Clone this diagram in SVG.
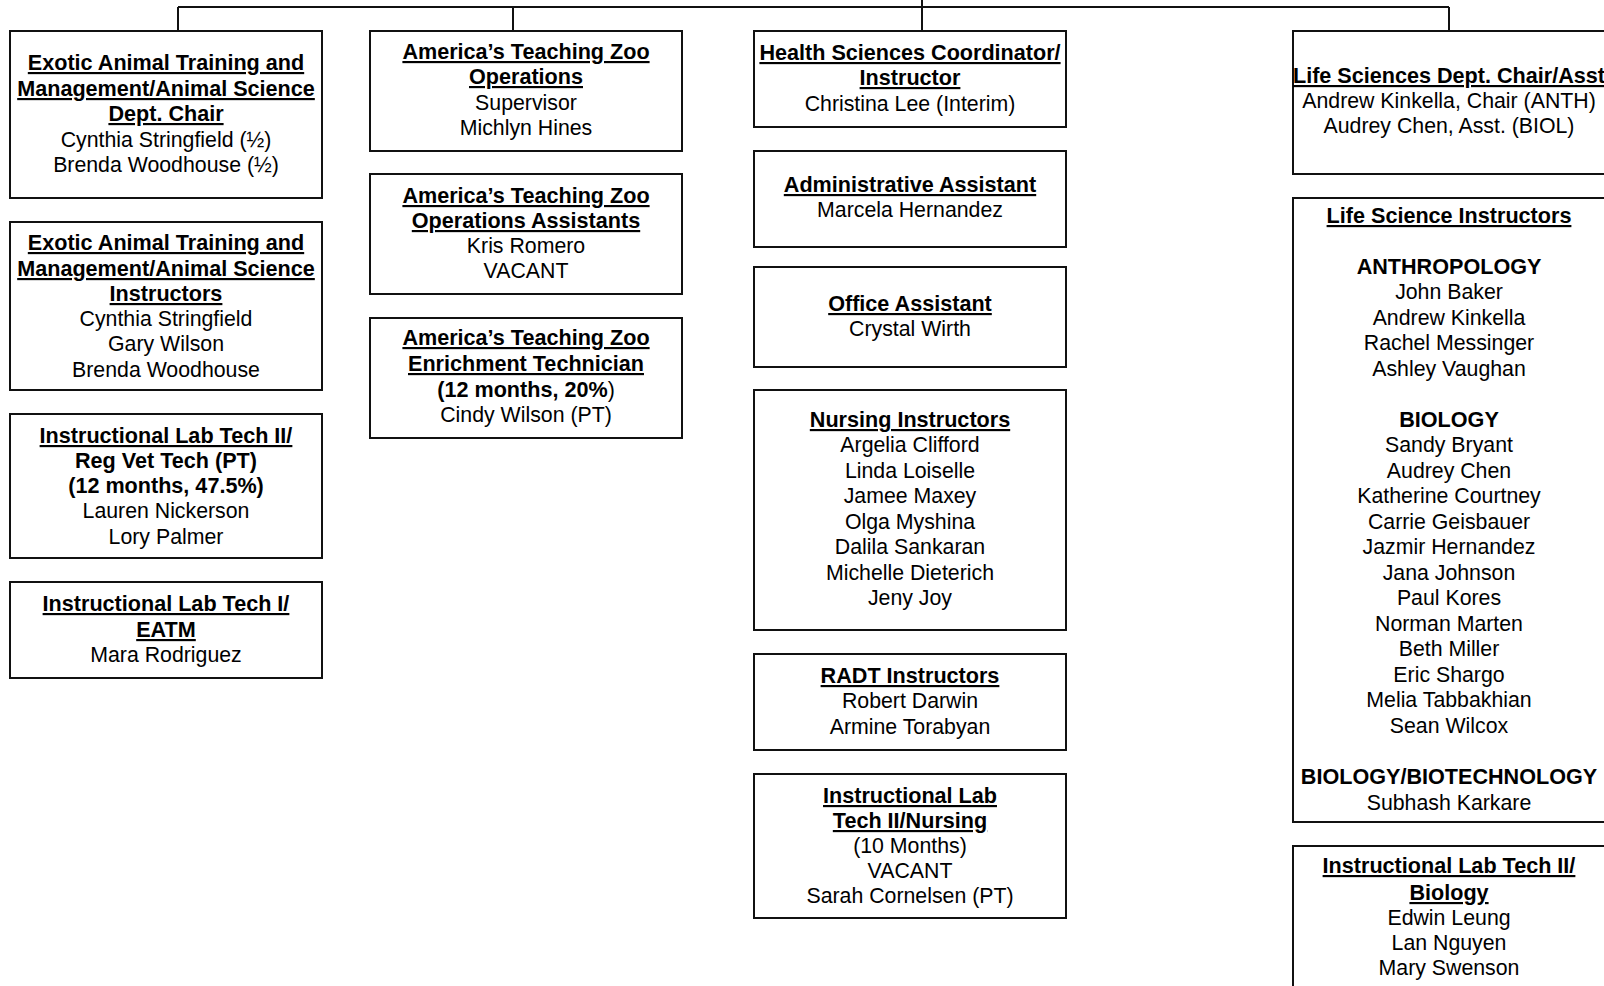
<svg xmlns="http://www.w3.org/2000/svg" width="1604" height="986" viewBox="0 0 1604 986">
<style>
  .box { fill: #fff; stroke: #111; stroke-width: 2; }
  .ln { fill: none; stroke: #111; stroke-width: 2; }
  text { font-family: "Liberation Sans", Arial, sans-serif; font-size: 21.3px; fill: #000; text-anchor: middle; }
  .h { font-weight: bold; font-size: 21.6px; text-decoration: underline; }
  .b { font-weight: bold; font-size: 21.6px; }
</style>
<rect width="1604" height="986" fill="#fff"/>
<g id="connectors">
  <path class="ln" d="M178 7 H1449 M178 7 V31 M513 7 V31 M922 0 V31 M1449 7 V31"/>
</g>
<g id="eatm-chair">
  <rect class="box" x="10" y="31" width="312" height="167"/>
  <text x="166" y="70" class="h">Exotic Animal Training and</text>
  <text x="166" y="96" class="h">Management/Animal Science</text>
  <text x="166" y="121" class="h">Dept. Chair</text>
  <text x="166" y="147">Cynthia Stringfield (½)</text>
  <text x="166" y="172">Brenda Woodhouse (½)</text>
</g>
<g id="eatm-instructors">
  <rect class="box" x="10" y="222" width="312" height="168"/>
  <text x="166" y="250" class="h">Exotic Animal Training and</text>
  <text x="166" y="276" class="h">Management/Animal Science</text>
  <text x="166" y="301" class="h">Instructors</text>
  <text x="166" y="326">Cynthia Stringfield</text>
  <text x="166" y="351">Gary Wilson</text>
  <text x="166" y="377">Brenda Woodhouse</text>
</g>
<g id="ilt2-vet">
  <rect class="box" x="10" y="414" width="312" height="144"/>
  <text x="166" y="443" class="h">Instructional Lab Tech II/</text>
  <text x="166" y="468" class="b">Reg Vet Tech (PT)</text>
  <text x="166" y="493" class="b">(12 months, 47.5%)</text>
  <text x="166" y="518">Lauren Nickerson</text>
  <text x="166" y="544">Lory Palmer</text>
</g>
<g id="ilt1-eatm">
  <rect class="box" x="10" y="582" width="312" height="96"/>
  <text x="166" y="611" class="h">Instructional Lab Tech I/</text>
  <text x="166" y="637" class="h">EATM</text>
  <text x="166" y="662">Mara Rodriguez</text>
</g>
<g id="zoo-ops">
  <rect class="box" x="370" y="31" width="312" height="120"/>
  <text x="526" y="59" class="h">America’s Teaching Zoo</text>
  <text x="526" y="84" class="h">Operations</text>
  <text x="526" y="110">Supervisor</text>
  <text x="526" y="135">Michlyn Hines</text>
</g>
<g id="zoo-assistants">
  <rect class="box" x="370" y="174" width="312" height="120"/>
  <text x="526" y="203" class="h">America’s Teaching Zoo</text>
  <text x="526" y="228" class="h">Operations Assistants</text>
  <text x="526" y="253">Kris Romero</text>
  <text x="526" y="278">VACANT</text>
</g>
<g id="zoo-enrichment">
  <rect class="box" x="370" y="318" width="312" height="120"/>
  <text x="526" y="345" class="h">America’s Teaching Zoo</text>
  <text x="526" y="371" class="h">Enrichment Technician</text>
  <text x="526" y="397"><tspan class="b">(12 months, 20%</tspan>)</text>
  <text x="526" y="422">Cindy Wilson (PT)</text>
</g>
<g id="health-coord">
  <rect class="box" x="754" y="31" width="312" height="96"/>
  <text x="910" y="60" class="h">Health Sciences Coordinator/</text>
  <text x="910" y="85" class="h">Instructor</text>
  <text x="910" y="111">Christina Lee (Interim)</text>
</g>
<g id="admin-assistant">
  <rect class="box" x="754" y="151" width="312" height="96"/>
  <text x="910" y="192" class="h">Administrative Assistant</text>
  <text x="910" y="217">Marcela Hernandez</text>
</g>
<g id="office-assistant">
  <rect class="box" x="754" y="267" width="312" height="100"/>
  <text x="910" y="311" class="h">Office Assistant</text>
  <text x="910" y="336">Crystal Wirth</text>
</g>
<g id="nursing">
  <rect class="box" x="754" y="390" width="312" height="240"/>
  <text x="910" y="427" class="h">Nursing Instructors</text>
  <text x="910" y="452">Argelia Clifford</text>
  <text x="910" y="478">Linda Loiselle</text>
  <text x="910" y="503">Jamee Maxey</text>
  <text x="910" y="529">Olga Myshina</text>
  <text x="910" y="554">Dalila Sankaran</text>
  <text x="910" y="580">Michelle Dieterich</text>
  <text x="910" y="605">Jeny Joy</text>
</g>
<g id="radt">
  <rect class="box" x="754" y="654" width="312" height="96"/>
  <text x="910" y="683" class="h">RADT Instructors</text>
  <text x="910" y="708">Robert Darwin</text>
  <text x="910" y="734">Armine Torabyan</text>
</g>
<g id="ilt2-nursing">
  <rect class="box" x="754" y="774" width="312" height="144"/>
  <text x="910" y="803" class="h">Instructional Lab</text>
  <text x="910" y="828" class="h">Tech II/Nursing</text>
  <text x="910" y="853">(10 Months)</text>
  <text x="910" y="878">VACANT</text>
  <text x="910" y="903">Sarah Cornelsen (PT)</text>
</g>
<g id="life-chair">
  <rect class="box" x="1293" y="31" width="314" height="143"/>
  <text x="1449" y="83" class="h">Life Sciences Dept. Chair/Asst</text>
  <text x="1449" y="108">Andrew Kinkella, Chair (ANTH)</text>
  <text x="1449" y="133">Audrey Chen, Asst. (BIOL)</text>
</g>
<g id="life-instructors">
  <rect class="box" x="1293" y="198" width="314" height="624"/>
  <text x="1449" y="223" class="h">Life Science Instructors</text>
  <text x="1449" y="274" class="b">ANTHROPOLOGY</text>
  <text x="1449" y="299">John Baker</text>
  <text x="1449" y="325">Andrew Kinkella</text>
  <text x="1449" y="350">Rachel Messinger</text>
  <text x="1449" y="376">Ashley Vaughan</text>
  <text x="1449" y="427" class="b">BIOLOGY</text>
  <text x="1449" y="452">Sandy Bryant</text>
  <text x="1449" y="478">Audrey Chen</text>
  <text x="1449" y="503">Katherine Courtney</text>
  <text x="1449" y="529">Carrie Geisbauer</text>
  <text x="1449" y="554">Jazmir Hernandez</text>
  <text x="1449" y="580">Jana Johnson</text>
  <text x="1449" y="605">Paul Kores</text>
  <text x="1449" y="631">Norman Marten</text>
  <text x="1449" y="656">Beth Miller</text>
  <text x="1449" y="682">Eric Shargo</text>
  <text x="1449" y="707">Melia Tabbakhian</text>
  <text x="1449" y="733">Sean Wilcox</text>
  <text x="1449" y="784" class="b">BIOLOGY/BIOTECHNOLOGY</text>
  <text x="1449" y="810">Subhash Karkare</text>
</g>
<g id="ilt2-biology">
  <rect class="box" x="1293" y="846" width="314" height="200"/>
  <text x="1449" y="873" class="h">Instructional Lab Tech II/</text>
  <text x="1449" y="900" class="h">Biology</text>
  <text x="1449" y="925">Edwin Leung</text>
  <text x="1449" y="950">Lan Nguyen</text>
  <text x="1449" y="975">Mary Swenson</text>
</g>
</svg>
